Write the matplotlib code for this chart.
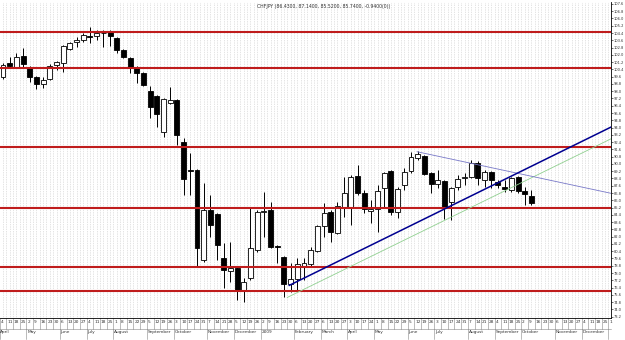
import numpy as np
import pandas as pd
import matplotlib
matplotlib.use("Agg")
import matplotlib.pyplot as plt
from matplotlib.transforms import blended_transform_factory

TITLE = "CHFJPY (86.4300, 87.1400, 85.5200, 85.7400, -0.9400(0))"
FIRST_WEEK = "2008-04-04"
AXIS_WEEKS = 92

# weekly candles, Apr 2008 -> Oct 2009
opens = [99.56, 101.10, 100.66, 101.87, 100.66, 99.56, 98.79, 99.34, 100.88, 101.10,
         102.64, 103.41, 103.63, 104.07, 104.07, 104.35, 104.51, 103.85, 102.53, 101.65,
         100.55, 100.00, 98.02, 97.47, 93.51, 96.70, 97.03, 92.41, 89.33, 89.33,
         79.43, 84.93, 84.49, 79.65, 78.22, 78.55, 76.13, 77.45, 80.53, 84.71,
         84.93, 80.97, 79.76, 76.79, 77.34, 78.77, 78.99, 80.42, 83.17, 84.71,
         82.40, 85.15, 85.26, 88.67, 86.80, 84.82, 85.04, 87.35, 89.22, 84.71,
         87.68, 89.22, 90.65, 90.87, 89.00, 87.79, 88.12, 85.81, 87.46, 88.45,
         88.56, 90.10, 88.23, 89.11, 88.01, 87.46, 87.13, 88.56, 87.02, 86.43]
highs = [101.10, 101.76, 102.20, 102.75, 100.77, 99.67, 99.56, 100.99, 101.32, 103.08,
         103.41, 103.96, 104.40, 105.06, 104.73, 104.73, 104.73, 103.96, 102.64, 101.76,
         100.77, 100.11, 98.57, 97.58, 97.25, 98.46, 97.14, 92.85, 91.20, 89.44,
         87.90, 86.58, 84.60, 81.30, 81.41, 78.66, 77.45, 85.26, 84.93, 86.91,
         85.81, 81.08, 79.87, 79.10, 79.65, 79.65, 80.86, 83.28, 85.70, 84.93,
         85.81, 88.56, 88.78, 89.88, 87.13, 86.03, 87.68, 89.11, 89.33, 87.46,
         89.55, 91.31, 91.42, 90.98, 89.11, 89.33, 88.23, 87.46, 88.78, 89.00,
         90.43, 90.32, 89.33, 89.22, 88.23, 88.23, 88.56, 88.67, 87.46, 87.14]
lows = [99.34, 100.55, 100.55, 100.66, 99.01, 98.24, 98.35, 99.23, 100.33, 100.11,
        102.53, 102.86, 103.41, 103.30, 103.63, 102.86, 102.97, 102.20, 101.65, 100.00,
        98.90, 98.57, 95.05, 94.06, 92.96, 96.59, 92.08, 86.58, 86.58, 78.66,
        79.21, 81.96, 79.43, 76.35, 77.01, 75.03, 74.81, 77.23, 80.31, 81.96,
        80.75, 79.10, 75.36, 75.91, 76.13, 77.23, 78.77, 80.31, 81.96, 81.41,
        82.29, 84.16, 83.28, 86.58, 84.60, 83.50, 82.51, 85.26, 84.38, 84.05,
        87.13, 89.00, 90.43, 88.78, 86.80, 87.35, 83.94, 83.83, 87.13, 87.68,
        88.45, 87.68, 87.46, 87.35, 87.35, 86.91, 86.91, 86.80, 85.48, 85.52]
closes = [100.88, 100.77, 101.76, 100.99, 99.56, 98.79, 99.23, 100.77, 101.21, 102.97,
          103.30, 103.63, 104.18, 103.96, 104.40, 104.40, 104.07, 102.53, 101.76, 100.66,
          100.00, 98.68, 96.26, 95.49, 97.14, 97.03, 93.18, 88.34, 89.22, 80.75,
          84.93, 83.28, 81.08, 78.33, 78.55, 76.13, 77.01, 80.75, 84.71, 84.82,
          80.86, 80.86, 76.79, 77.34, 78.99, 79.10, 80.53, 83.17, 84.60, 82.51,
          85.37, 86.80, 88.56, 86.80, 85.04, 85.04, 87.02, 89.00, 84.71, 87.24,
          89.11, 90.76, 91.09, 88.89, 87.79, 88.23, 85.15, 87.35, 88.34, 88.56,
          90.10, 88.45, 89.11, 88.23, 87.68, 87.24, 88.45, 87.02, 86.69, 85.74]

# horizontal support / resistance
levels = [104.51, 100.55, 91.86, 85.15, 78.66, 76.02]

# trend lines as (week index, price) anchor pairs
blue_x, blue_y = [42.8, 89.1], [76.64, 93.40]
green_x, green_y = [42.5, 88.1], [75.31, 91.75]
purple_x, purple_y = [61.9, 89.1], [91.34, 87.05]

Y_MIN, Y_MAX = 73.05, 107.81
X_MIN, X_MAX = -0.45, 90.9


def _extend(xs, ys, x_end):
    slope = (ys[1] - ys[0]) / (xs[1] - xs[0])
    return [xs[0], x_end], [ys[0], ys[0] + slope * (x_end - xs[0])]


fig = plt.figure(figsize=(6.25, 3.4), dpi=100)
ax = fig.add_axes([0.0, 1 - 318 / 340, 611 / 625, 316 / 340])
ax.set_xlim(X_MIN, X_MAX)
ax.set_ylim(Y_MIN, Y_MAX)

# dotted vertical grid
for gx in np.arange(0, X_MAX, 0.5):
    ax.axvline(gx, color="#c8c8c8", lw=0.5, ls=(0, (1, 1.5)), zorder=0)

o = np.array(opens)
h = np.array(highs)
l = np.array(lows)
c = np.array(closes)
idx = np.arange(len(o))
up = c >= o

ax.vlines(idx, l, h, color="black", lw=0.7, zorder=2)
body_lo = np.minimum(o, c)
body_h = np.maximum(np.abs(c - o), 0.06)
ax.bar(idx[up], body_h[up], bottom=body_lo[up], width=0.74,
       facecolor="white", edgecolor="black", lw=0.6, zorder=3)
ax.bar(idx[~up], body_h[~up], bottom=body_lo[~up], width=0.74,
       facecolor="black", edgecolor="black", lw=0.6, zorder=3)

for lv in levels:
    ax.axhline(lv, color="#bf1c1c", lw=1.5, zorder=4)

bx, by = _extend(blue_x, blue_y, X_MAX)
gx_, gy_ = _extend(green_x, green_y, X_MAX)
px, py = _extend(purple_x, purple_y, X_MAX)
ax.plot(gx_, gy_, color="#8fd08f", lw=0.6, zorder=4)
ax.plot(px, py, color="#7878c8", lw=0.6, zorder=4)
ax.plot(bx, by, color="#000090", lw=1.1, zorder=5)

ax.text(0.53, 0.995, TITLE, transform=ax.transAxes, ha="center", va="top",
        fontsize=3.3, color="#333333")

# right price scale
for s in ("top", "left"):
    ax.spines[s].set_visible(False)
ax.spines["right"].set_linewidth(0.6)
ax.spines["bottom"].set_linewidth(0.6)
ax.yaxis.tick_right()
yt = np.arange(73.2, 107.7, 0.8)
ax.set_yticks(yt)
ax.set_yticklabels([f"{v:.1f}" for v in yt])
ax.tick_params(axis="y", labelsize=2.6, length=1.5, width=0.5, pad=0.4, colors="#333333")
ax.set_xticks([])

# weekly date row + month row
weeks = pd.date_range(FIRST_WEEK, periods=AXIS_WEEKS, freq="W-FRI")
tr = blended_transform_factory(ax.transData, ax.transAxes)
prev_month = None
for i, d in enumerate(weeks):
    xl = i - 0.5
    if xl > X_MAX:
        break
    ax.plot([xl, xl], [0, -0.035], transform=tr, color="#888888", lw=0.4, clip_on=False)
    ax.text(xl + 0.12, -0.006, str(d.day), transform=tr, ha="left", va="top",
            fontsize=3.1, color="#333333", clip_on=False)
    if d.month != prev_month:
        name = "2009" if (d.month == 1) else d.strftime("%B")
        ax.plot([xl, xl], [-0.035, -0.065], transform=tr, color="#888888", lw=0.4, clip_on=False)
        if xl + 3 < X_MAX:
            ax.text(xl + 0.12, -0.038, name, transform=tr, ha="left", va="top",
                    fontsize=3.1, color="#333333", clip_on=False)
        prev_month = d.month
ax.plot([X_MIN, X_MAX], [-0.035, -0.035], transform=tr, color="#888888", lw=0.4, clip_on=False)

fig.savefig("out.png", dpi=100)
